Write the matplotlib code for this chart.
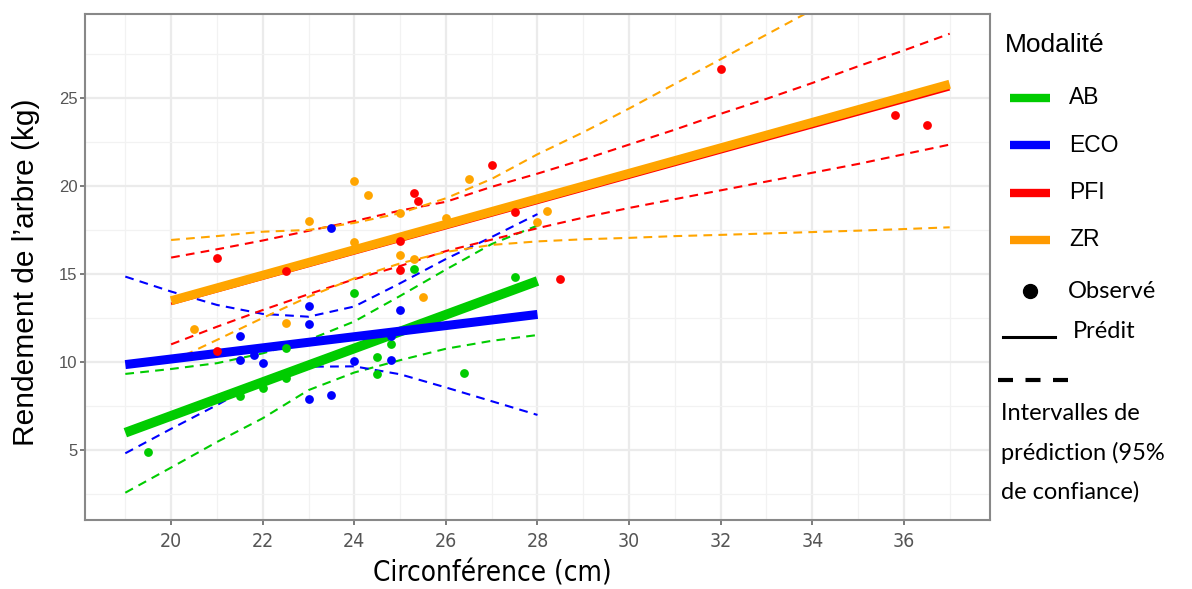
import matplotlib
matplotlib.use("Agg")
import matplotlib.pyplot as plt
from matplotlib.lines import Line2D

# couleurs des modalités
col_ab = "#00CC00"
col_eco = "#0000FF"
col_pfi = "#FF0000"
col_zr = "#FFA500"

# points observés (circonférence cm, rendement kg)
ab_x = [19.5, 21.5, 22.0, 22.5, 22.5, 24.0, 24.5, 24.5, 24.8, 25.3, 26.4, 27.5]
ab_y = [4.9, 8.05, 8.5, 9.1, 10.8, 13.9, 10.3, 9.3, 11.0, 15.3, 9.4, 14.85]
eco_x = [21.5, 21.5, 21.8, 22.0, 23.0, 23.0, 23.0, 23.5, 23.5, 24.0, 24.8, 24.8, 25.0]
eco_y = [11.45, 10.1, 10.4, 9.95, 13.2, 12.15, 7.9, 8.15, 17.6, 10.05, 10.1, 11.5, 12.95]
pfi_x = [21.0, 21.0, 22.5, 25.0, 25.0, 25.3, 25.4, 27.0, 27.5, 28.5, 32.0, 35.8, 36.5]
pfi_y = [15.9, 10.65, 15.15, 16.9, 15.25, 19.6, 19.15, 21.2, 18.5, 14.7, 26.65, 24.05, 23.45]
zr_x = [20.5, 22.5, 23.0, 24.0, 24.0, 24.3, 25.0, 25.0, 25.3, 25.5, 26.0, 26.5, 28.0, 28.2]
zr_y = [11.85, 12.2, 18.0, 20.3, 16.8, 19.5, 18.45, 16.1, 15.85, 13.7, 18.2, 20.4, 17.95, 18.55]

# droites prédites
ab_fit_x, ab_fit_y = [19, 28], [5.98, 14.6]
eco_fit_x, eco_fit_y = [19, 28], [9.85, 12.7]
pfi_fit_x, pfi_fit_y = [20, 37], [13.3, 25.5]
zr_fit_x, zr_fit_y = [20, 37], [13.48, 25.78]

# intervalles de prédiction
pi_x_court = [19, 20, 21, 22, 23, 24, 25, 26, 27, 28]
ab_haut = [9.32, 9.6, 9.93, 10.49, 11.25, 12.3, 13.75, 15.25, 16.7, 17.75]
ab_bas = [2.57, 4.0, 5.45, 6.8, 8.4, 9.4, 10.1, 10.75, 11.2, 11.53]
eco_haut = [14.85, 14.0, 13.24, 12.73, 12.57, 13.15, 14.47, 15.85, 17.1, 18.4]
eco_bas = [4.81, 6.2, 7.55, 8.98, 9.73, 9.75, 9.3, 8.55, 7.77, 6.99]

pi_x_long = [20, 21, 22, 23, 24, 25, 26, 27, 28, 29, 30, 31, 32, 33, 34, 35, 36, 37]
pfi_haut = [15.93, 16.4, 16.9, 17.45, 18.0, 18.6, 19.1, 19.95, 20.7, 21.5, 22.35, 23.2,
            24.1, 24.95, 25.85, 26.8, 27.7, 28.65]
pfi_bas = [11.0, 12.0, 12.95, 13.85, 14.7, 15.45, 16.3, 16.95, 17.6, 18.2, 18.75, 19.25,
           19.75, 20.25, 20.75, 21.25, 21.8, 22.35]
zr_haut_x = [20, 21, 22, 23, 24, 25, 26, 27, 28, 29, 30, 31, 32, 33, 34]
zr_haut = [16.93, 17.15, 17.4, 17.5, 17.9, 18.45, 19.3, 20.4, 21.8, 23.05, 24.4, 25.8,
           27.2, 28.6, 30.0]
zr_bas = [10.02, 11.25, 12.5, 13.7, 14.75, 15.6, 16.25, 16.65, 16.85, 16.97, 17.05, 17.15,
          17.22, 17.3, 17.38, 17.46, 17.55, 17.65]

x_ticks = [20, 22, 24, 26, 28, 30, 32, 34, 36]
y_ticks = [5, 10, 15, 20, 25]

W, H = 1192, 589
fig = plt.figure(figsize=(W / 100, H / 100), dpi=100)
ax = fig.add_axes([85 / W, 1 - 520 / H, 905 / W, 506 / H])

# grille façon theme_bw
ax.set_xlim(18.12, 37.88)
ax.set_ylim(1.02, 29.77)
ax.set_xticks(x_ticks)
ax.set_yticks(y_ticks)
ax.set_xticks([19, 21, 23, 25, 27, 29, 31, 33, 35, 37], minor=True)
ax.set_yticks([2.5, 7.5, 12.5, 17.5, 22.5, 27.5], minor=True)
ax.grid(which="major", color="#EBEBEB", lw=1.6, zorder=0)
ax.grid(which="minor", color="#F2F2F2", lw=0.9, zorder=0)
ax.set_axisbelow(True)
for s in ax.spines.values():
    s.set_color("#888888")
    s.set_linewidth(1.5)
ax.tick_params(which="major", length=3.5, width=1.2, color="#666666", labelcolor="#555555")
ax.tick_params(which="minor", length=0)
ax.tick_params(axis="y", labelsize=12, pad=2)
ax.tick_params(axis="x", pad=5)
for lab in ax.get_yticklabels():
    lab.set_family("Liberation Sans")
for lab in ax.get_xticklabels():
    lab.set_family("DejaVu Sans")
    lab.set_stretch("condensed")
    lab.set_fontsize(14)

dash = dict(lw=1.5, dashes=(4.2, 3))
ax.plot(pi_x_court, ab_haut, color=col_ab, **dash)
ax.plot(pi_x_court, ab_bas, color=col_ab, **dash)
ax.plot(pi_x_court, eco_haut, color=col_eco, **dash)
ax.plot(pi_x_court, eco_bas, color=col_eco, **dash)
ax.plot(pi_x_long, pfi_haut, color=col_pfi, **dash)
ax.plot(pi_x_long, pfi_bas, color=col_pfi, **dash)
ax.plot(zr_haut_x, zr_haut, color=col_zr, **dash)
ax.plot(pi_x_long, zr_bas, color=col_zr, **dash)

ax.plot(ab_fit_x, ab_fit_y, color=col_ab, lw=7, solid_capstyle="butt")
ax.plot(eco_fit_x, eco_fit_y, color=col_eco, lw=6.5, solid_capstyle="butt")
ax.plot(pfi_fit_x, pfi_fit_y, color=col_pfi, lw=2, solid_capstyle="butt")
ax.plot(zr_fit_x, zr_fit_y, color=col_zr, lw=6.5, solid_capstyle="butt")

for xs, ys, c in [(ab_x, ab_y, col_ab), (eco_x, eco_y, col_eco),
                  (pfi_x, pfi_y, col_pfi), (zr_x, zr_y, col_zr)]:
    ax.scatter(xs, ys, s=40, color=c, zorder=5, linewidths=0)

ax.set_xlabel("Circonférence (cm)", family="DejaVu Sans", stretch="condensed",
              fontsize=20)
ax.xaxis.set_label_coords((492 - 85) / 905, -0.078)
ax.set_ylabel("Rendement de l’arbre (kg)", family="Liberation Sans", fontsize=21.5)
ax.yaxis.set_label_coords(-0.05, 0.49)

# légende dessinée à la main
def fx(px):
    return px / W

def fy(py):
    return 1 - py / H

fig.text(fx(1005), fy(45), "Modalité", family="Liberation Sans", fontsize=19, va="center")
for i, (nom, c) in enumerate([("AB", col_ab), ("ECO", col_eco), ("PFI", col_pfi), ("ZR", "#FF9A00")]):
    py = 98 + i * 47.3
    fig.add_artist(Line2D([fx(1010), fx(1050)], [fy(py), fy(py)], color=c, lw=6,
                          solid_capstyle="butt", transform=fig.transFigure))
    fig.text(fx(1069), fy(py), nom, family="Liberation Sans", fontsize=16.5, va="center")

f2 = "Lato"
fig.add_artist(Line2D([fx(1030)], [fy(291)], marker="o", ms=10, color="black",
                      lw=0, transform=fig.transFigure))
fig.text(fx(1068), fy(291), "Observé", family=f2, fontsize=17, va="center")
fig.add_artist(Line2D([fx(1003), fx(1055)], [fy(337), fy(337)], color="black", lw=2.2,
                      transform=fig.transFigure))
fig.text(fx(1073), fy(332), "Prédit", family=f2, fontsize=17, va="center")
fig.add_artist(Line2D([fx(998), fx(1068)], [fy(380), fy(380)], color="black", lw=3,
                      dashes=(3.6, 3.0), transform=fig.transFigure))
for j, t in enumerate(["Intervalles de", "prédiction (95%", "de confiance)"]):
    fig.text(fx(1001), fy(413 + j * 39.5), t, family=f2, fontsize=17, va="center")

fig.savefig("out.png", dpi=100)
